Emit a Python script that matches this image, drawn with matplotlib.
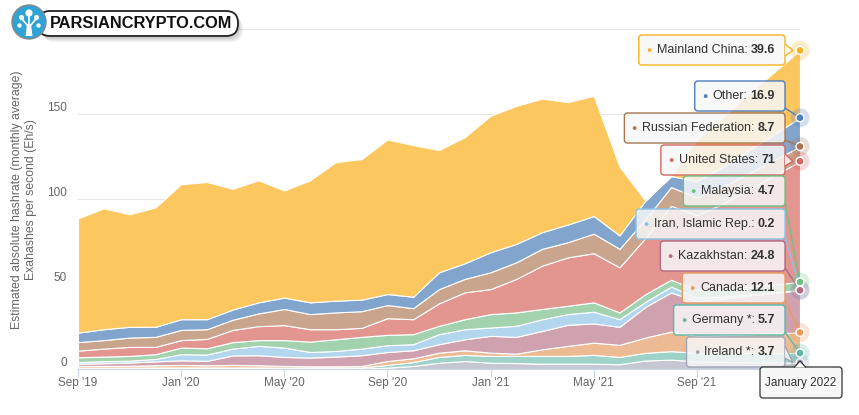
import numpy as np
import matplotlib.pyplot as plt
from matplotlib.patches import FancyBboxPatch, Circle, Polygon

plt.rcParams['font.family'] = ['Liberation Sans', 'DejaVu Sans']

# monthly data, Sep 2019 .. Jan 2022 (Eh/s)
tick_pos = [0, 4, 8, 12, 16, 20, 24]
tick_labels = ["Sep '19", "Jan '20", "May '20", "Sep '20", "Jan '21", "May '21", "Sep '21"]
last_label = "January 2022"

ireland = [0.3, 0.3, 0.3, 0.3, 0.3, 0.3, 0.3, 0.3, 0.3, 0.3, 0.3, 0.3, 0.8, 1.8, 3.7, 4.7,
           3.7, 3.5, 3.1, 3.1, 3.1, 2.8, 5.0, 5.5, 4.5, 4.2, 4.0, 3.8, 3.7]
germany = [0.5, 0.5, 0.5, 0.6, 0.6, 0.6, 0.6, 0.6, 0.5, 0.5, 0.5, 0.6, 1.6, 2.3, 3.4, 3.6,
           4.0, 4.2, 4.6, 4.6, 5.2, 4.3, 4.5, 5.0, 5.0, 5.2, 5.4, 5.6, 5.7]
canada = [1.0, 1.0, 1.1, 1.3, 1.5, 1.3, 1.5, 1.3, 1.0, 0.8, 0.8, 0.9, 2.3, 2.2, 2.5, 2.7,
          1.9, 1.3, 3.9, 5.9, 7.2, 7.1, 9.0, 11.5, 10.0, 10.5, 11.0, 11.6, 12.1]
kazakhstan = [1.3, 1.6, 1.9, 2.3, 2.7, 2.6, 5.6, 5.9, 5.3, 5.1, 5.7, 6.3, 5.3, 4.7, 5.0, 6.5,
              9.9, 9.9, 10.8, 12.4, 11.3, 10.6, 18.0, 23.0, 20.5, 21.5, 22.8, 23.8, 24.8]
iran = [1.0, 1.2, 1.1, 1.4, 3.6, 3.7, 4.0, 5.5, 5.5, 3.3, 3.3, 3.9, 4.0, 3.6, 5.9, 5.9,
        4.9, 6.5, 6.9, 6.3, 6.9, 4.5, 3.0, 3.5, 2.0, 1.2, 0.6, 0.3, 0.2]
malaysia = [2.8, 2.7, 2.8, 2.8, 3.9, 3.7, 3.8, 3.4, 4.4, 6.1, 6.9, 6.9, 6.1, 5.9, 4.9, 5.9,
            7.9, 7.9, 6.0, 4.9, 5.5, 4.0, 4.5, 4.0, 4.5, 4.6, 4.7, 4.7, 4.7]
united_states = [3.9, 4.7, 5.3, 4.3, 4.4, 5.5, 7.2, 8.2, 8.8, 7.3, 5.9, 5.3, 9.8, 8.8, 13.2, 15.8,
                 14.7, 19.7, 25.5, 28.5, 28.9, 26.5, 33.0, 43.5, 44.0, 50.0, 57.0, 64.0, 71.0]
russia = [5.0, 5.0, 5.5, 5.9, 6.0, 5.7, 6.0, 7.5, 9.5, 8.9, 9.9, 9.8, 7.7, 6.5, 8.4, 7.9,
          9.9, 9.8, 9.9, 8.9, 11.5, 10.9, 11.0, 11.0, 10.5, 10.0, 9.5, 9.1, 8.7]
other = [5.6, 6.4, 6.3, 5.9, 6.3, 5.9, 6.0, 6.5, 6.7, 6.9, 6.9, 6.8, 6.5, 6.7, 9.9, 9.2,
         11.8, 10.8, 9.8, 10.4, 10.4, 7.9, 11.0, 6.5, 9.5, 11.5, 13.5, 15.3, 16.9]
china = [67.2, 71.1, 66.2, 70.2, 79.4, 80.7, 71.0, 71.8, 63.0, 71.8, 81.5, 82.7, 90.9, 89.2, 71.9, 74.2,
         80.3, 81.2, 78.5, 72.0, 70.7, 40.4, 0.0, 0.0, 24.0, 29.0, 33.0, 36.5, 39.6]

# bottom -> top
names = ['Ireland *', 'Germany *', 'Canada', 'Kazakhstan', 'Iran, Islamic Rep.', 'Malaysia',
         'United States', 'Russian Federation', 'Other', 'Mainland China']
series = [ireland, germany, canada, kazakhstan, iran, malaysia, united_states, russia, other, china]
fills = ['#c5c8d3', '#9fd3c9', '#edbb93', '#d0a1ae', '#b3d6ef', '#a3d3ae',
         '#e2968f', '#c9a58d', '#82a5cd', '#fdc75f']
edges = ['#a0a6b8', '#5cb8a8', '#e99a5c', '#b26b82', '#87c3ec', '#6fbf85',
         '#d16760', '#a8754f', '#4d7fc0', '#f5b324']

W, H = 859, 415
fig = plt.figure(figsize=(W / 100, H / 100), dpi=100)
ax = fig.add_axes([78 / W, 46 / H, 722 / W, 340 / H])

x = np.arange(len(china))
ax.stackplot(x, *series, colors=fills, edgecolor='white', linewidth=0.8, zorder=2)

ax.set_xlim(0, len(china) - 1)
ax.set_ylim(0, 200)
ax.set_yticks([0, 50, 100, 150, 200])
ax.set_yticklabels([])
ax.tick_params(axis='y', length=0)
ax.grid(axis='y', color='#e6e6e6', lw=0.75, zorder=0)
# the 200 label sits under the logo in the original, so only these show
for v in [0, 50, 100, 150]:
    ax.annotate(str(v), xy=(0, v), xycoords=('axes fraction', 'data'), xytext=(-11, 6),
                textcoords='offset pixels', ha='right', va='center', fontsize=8.5, color='#666666')
ax.set_xticks(tick_pos)
ax.set_xticklabels(tick_labels)
ax.tick_params(axis='x', length=6, color='#ccd6eb', labelcolor='#666666', labelsize=8.5, pad=-0.5)
for s in ['left', 'right', 'top']:
    ax.spines[s].set_visible(False)
ax.spines['bottom'].set_color('#ccd6eb')

# overlay in pixel coordinates
ov = fig.add_axes([0, 0, 1, 1], zorder=5)
ov.set_xlim(0, W)
ov.set_ylim(H, 0)
ov.axis('off')
ov.patch.set_alpha(0)

ov.text(17, 200, 'Estimated absolute hashrate (monthly average)', rotation=90,
        ha='center', va='center', fontsize=8.8, color='#666666')
ov.text(31, 200, 'Exahashes per second (Eh/s)', rotation=90,
        ha='center', va='center', fontsize=8.8, color='#666666')

renderer = fig.canvas.get_renderer()


def text_w(t):
    return t.get_window_extent(renderer=renderer).width


def to_px(xv, yv):
    px, py = ax.transData.transform((xv, yv))
    return px, H - py


# tooltips, top -> bottom
box_centers = [50, 96, 128, 160, 191, 224, 256, 288, 320, 352]
cum = np.cumsum([s[-1] for s in series])
right = 785
for i, k in enumerate(range(len(series) - 1, -1, -1)):
    cy = box_centers[i]
    mx, my = to_px(len(china) - 1, cum[k])
    edge = edges[k]
    tv = ov.text(right - 10, cy, f"{series[k][-1]:g}", ha='right', va='center', fontsize=9,
                 fontweight='bold', color='#333333', zorder=4)
    wv = text_w(tv)
    tn = ov.text(right - 10 - wv - 3, cy, names[k] + ':', ha='right', va='center',
                 fontsize=9, color='#333333', zorder=4)
    wn = text_w(tn)
    xb = right - 10 - wv - 3 - wn - 8
    ov.text(xb, cy + 0.5, '\u25cf', ha='center', va='center', fontsize=6.5, color=edge, zorder=4)
    left = xb - 10
    ov.add_patch(FancyBboxPatch((left, cy - 15), right - left, 30,
                                boxstyle='round,pad=0,rounding_size=3',
                                fc=(0.97, 0.97, 0.97, 0.85), ec=edge, lw=1, zorder=3))
    if abs(my - cy) <= 12:
        ov.add_patch(Polygon([(right, cy - 6), (mx - 7, my), (right, cy + 6)], closed=False,
                             fc=(0.97, 0.97, 0.97, 0.85), ec=edge, lw=1, zorder=3))
    else:
        sy = min(max(my, cy - 12), cy + 12)
        ov.plot([right, mx], [sy, my], color=edge, lw=1, zorder=2)
    ov.add_patch(Circle((mx, my), 9.5, fc=edge, ec='none', alpha=0.25, zorder=5))
    ov.add_patch(Circle((mx, my), 4, fc=edge, ec='white', lw=1, zorder=6))

# x tooltip
ov.add_patch(FancyBboxPatch((760, 367), 82, 31, boxstyle='round,pad=0,rounding_size=3',
                            fc='#f7f7f7', ec='#333333', lw=0.9, zorder=7))
ov.add_patch(Polygon([(794, 367.5), (800, 361), (806, 367.5)], closed=False,
                     fc='#f7f7f7', ec='#333333', lw=0.9, zorder=7))
ov.text(801, 383, last_label, ha='center', va='center', fontsize=8.5, color='#333333', zorder=8)

# watermark logo
for d, a in [(5, 0.08), (3.5, 0.1), (2, 0.12)]:
    ov.add_patch(FancyBboxPatch((38 + d, 11 + d + 1), 200, 25,
                                boxstyle='round,pad=0,rounding_size=12',
                                fc='#555555', ec='none', alpha=a, zorder=8))
ov.add_patch(FancyBboxPatch((38, 11), 200, 25, boxstyle='round,pad=0,rounding_size=12',
                            fc='white', ec='#222222', lw=1.3, zorder=9))
ov.add_patch(Circle((29, 22), 17, fc='#2ea3d5', ec='#888888', lw=1, zorder=10))
ov.add_patch(Polygon([(25.5, 36), (32.5, 36), (31, 24), (27, 24)], closed=True,
                     fc='white', ec='none', zorder=11))
for cx, cyy, r in [(29, 13, 3.6), (21.5, 17.5, 2.6), (36.5, 17.5, 2.6), (19.5, 25.5, 2.2), (38.5, 25.5, 2.2)]:
    ov.add_patch(Circle((cx, cyy), r, fc='white', ec='none', zorder=11))
ov.plot([29, 29], [16, 25], color='white', lw=1.2, zorder=11)
ov.plot([22, 28], [19, 26], color='white', lw=1.2, zorder=11)
ov.plot([36, 30], [19, 26], color='white', lw=1.2, zorder=11)
lt = ov.text(141, 24, 'PARSIANCRYPTO.COM', ha='center', va='center', fontsize=11,
             fontweight='bold', color='#111111', zorder=12)
lt.set_fontsize(11 * 182 / text_w(lt))

fig.savefig('out.png', dpi=100)
